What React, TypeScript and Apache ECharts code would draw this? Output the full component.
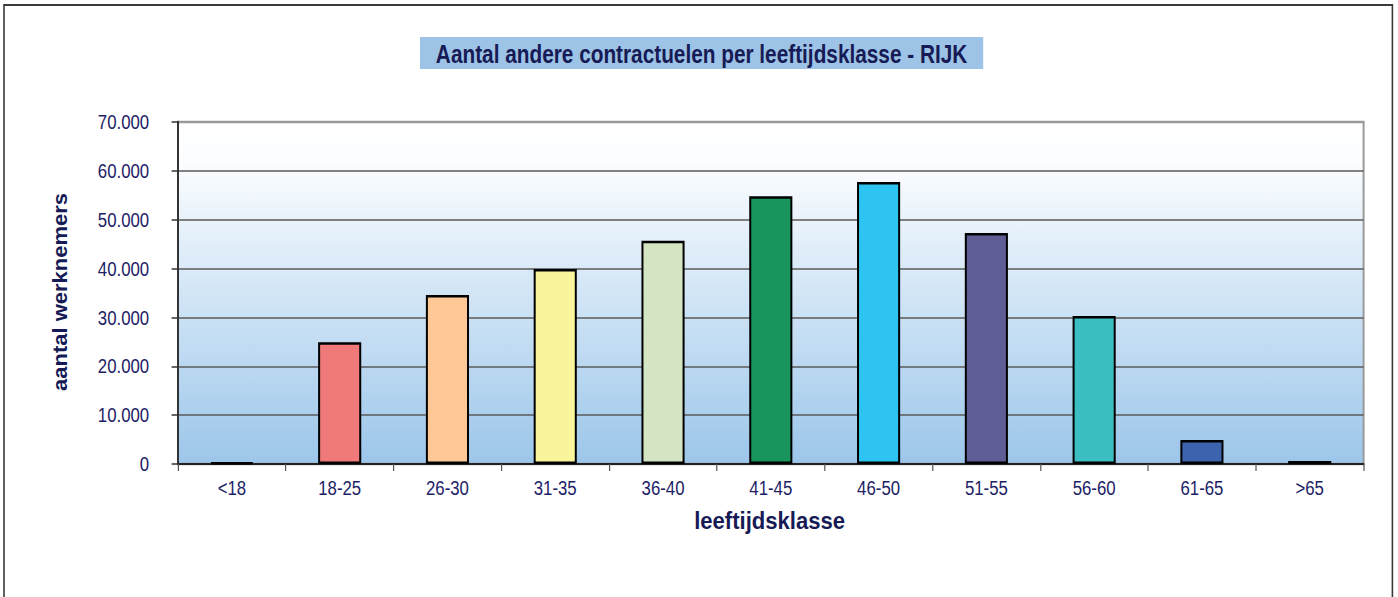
import React, { useEffect, useRef } from "react";
import * as echarts from "echarts";

const categories = ["<18", "18-25", "26-30", "31-35", "36-40", "41-45", "46-50", "51-55", "56-60", "61-65", ">65"];
const values = [300, 24900, 34600, 39900, 45700, 54800, 57700, 47300, 30300, 4900, 600];
const barColors = ["#5a4a7a", "#F07979", "#FDC895", "#F9F59B", "#D3E5C2", "#17955D", "#2DC4F2", "#5F5D95", "#3BBFC3", "#3D62AE", "#8E6C9A"];
const yMin = 0;
const yMax = 70000;
const yStep = 10000;
const titleText = "Aantal andere contractuelen per leeftijdsklasse - RIJK";
const yName = "aantal werknemers";
const xName = "leeftijdsklasse";

const SX = 0.8; // horizontal compression of the original picture
const W = 1398 / SX;
const H = 597;
const NAVY = "#1d2266";
const FONT = "'Liberation Sans', Arial, sans-serif";

const fmt = (v: number) => String(v).replace(/\B(?=(\d{3})+(?!\d))/g, ".");

export default function App() {
  const ref = useRef<HTMLDivElement>(null);
  useEffect(() => {
    document.body.style.overflow = "hidden";
    const chart = echarts.init(ref.current!, undefined, { renderer: "svg" });
    const nLines = (yMax - yMin) / yStep + 1;
    const splitColors = Array.from({ length: nLines }, (_, i) => (i === nLines - 1 ? "rgba(0,0,0,0)" : "#5a5a5a"));
    chart.setOption({
      animation: false,
      textStyle: { fontFamily: FONT },
      grid: {
        left: 222.5,
        right: W - 1704,
        top: 122,
        height: 342,
        show: true,
        borderColor: "#9a9a9a",
        borderWidth: 2.5,
        backgroundColor: new echarts.graphic.LinearGradient(0, 0, 0, 1, [
          { offset: 0, color: "#ffffff" },
          { offset: 0.12, color: "#fbfdff" },
          { offset: 1, color: "#9cc6ea" },
        ]),
      },
      xAxis: {
        type: "category",
        data: categories,
        axisLine: { show: true, lineStyle: { color: "#222", width: 2 } },
        axisTick: { show: true, length: 7, lineStyle: { color: "#555", width: 1.5 } },
        axisLabel: { fontSize: 21, color: NAVY, margin: 13, fontFamily: FONT },
        splitLine: { show: false },
      },
      yAxis: {
        type: "value",
        min: yMin,
        max: yMax,
        interval: yStep,
        axisLine: { show: true, lineStyle: { color: "#333", width: 2.5 } },
        axisTick: { show: true, length: 8, lineStyle: { color: "#333", width: 1.5 } },
        axisLabel: { fontSize: 21, color: NAVY, margin: 36, formatter: (v: number) => fmt(v), fontFamily: FONT },
        splitLine: { show: true, lineStyle: { color: splitColors, width: 1.5 } },
      },
      series: [
        {
          type: "bar",
          barWidth: "40%",
          data: values.map((v, i) => ({ value: v, itemStyle: { color: barColors[i] } })),
          itemStyle: { borderColor: "#000", borderWidth: 2.5 },
        },
      ],
      graphic: [
        {
          type: "rect",
          silent: true,
          shape: { x: 5, y: 5, width: W - 12, height: H + 20 },
          style: { fill: "none", stroke: "#3a3a3a", lineWidth: 2 },
        },
        {
          type: "rect",
          silent: true,
          shape: { x: 525, y: 37, width: 704, height: 32 },
          style: { fill: "#9DC3E6" },
        },
        {
          type: "text",
          silent: true,
          x: 877,
          y: 54,
          style: { text: titleText, fontSize: 26, fontWeight: "bold", fill: "#161a55", align: "center", verticalAlign: "middle", fontFamily: FONT },
        },
        {
          type: "text",
          silent: true,
          x: 75,
          y: 292,
          rotation: Math.PI / 2,
          scaleY: 1.15,
          style: { text: yName, fontSize: 22, fontWeight: "bold", fill: "#161a55", align: "center", verticalAlign: "middle", fontFamily: FONT },
        },
        {
          type: "text",
          silent: true,
          x: 962,
          y: 521,
          scaleX: 1.2,
          style: { text: xName, fontSize: 23, fontWeight: "bold", fill: "#161a55", align: "center", verticalAlign: "middle", fontFamily: FONT },
        },
      ],
    });
    return () => chart.dispose();
  }, []);
  return (
    <div
      style={{
        position: "absolute",
        left: 0,
        top: 0,
        width: W + "px",
        height: H + "px",
        transform: `scaleX(${SX})`,
        transformOrigin: "0 0",
        background: "#fff",
      }}
    >
      <div ref={ref} style={{ width: "100%", height: "100%" }} />
    </div>
  );
}
